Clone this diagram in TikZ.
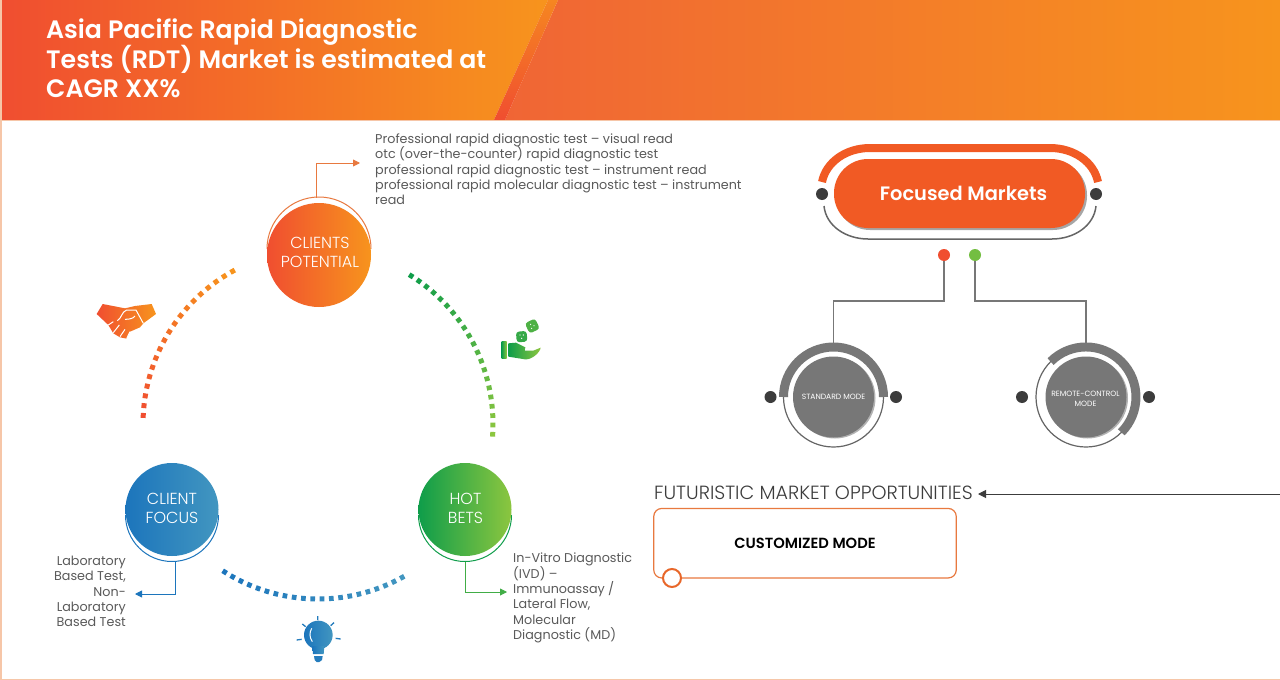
\documentclass[tikz,border=0pt]{standalone}
\usepackage{fontspec}
\setmainfont{Poppins}
\newfontfamily\poplight{Poppins Light}
\newfontfamily\popsemi{Poppins SemiBold}
\usetikzlibrary{arrows.meta,calc}
\definecolor{hdRed}{HTML}{F04E30}
\definecolor{hdOrg}{HTML}{F7941D}
\definecolor{hdMid}{HTML}{F06535}
\definecolor{peach}{HTML}{F6C6A8}
\definecolor{pill}{HTML}{F15A24}
\definecolor{ringo}{HTML}{E8672A}
\definecolor{txtg}{HTML}{5A5A5A}
\definecolor{mgray}{HTML}{777777}
\definecolor{dgray}{HTML}{3C3C3C}
\definecolor{blL}{HTML}{1C75BC}
\definecolor{blR}{HTML}{4296C0}
\definecolor{grL}{HTML}{0F9D4A}
\definecolor{grR}{HTML}{8CC63F}
\definecolor{bxo}{HTML}{E8793F}
\AtBeginDocument{\lineskiplimit=-100pt}
\tikzset{
 x=1pt,y=-1pt,
 bigdisc/.style={circle,minimum size=#1,inner sep=0pt},
 disctxt/.style={inner sep=0pt,text=white,align=center,font=\poplight\fontsize{16}{19}\selectfont},
 dotk/.style={circle,minimum size=12pt,inner sep=0pt,fill=dgray},
 listtxt/.style={inner sep=0pt,text=txtg,font=\fontsize{12.75}{15.3}\selectfont},
 modecirc/.style={circle,minimum size=81pt,inner sep=0pt,fill=mgray,text=white,align=center,font=\fontsize{7.6}{10}\selectfont},
 gline/.style={draw=mgray,line width=1.5pt},
 elbow/.style={line width=.9pt,-{Triangle[length=7pt,width=7pt]}},
}
\newcommand{\dashedarc}[5]{% start, end, steps, colour a, colour b
 \foreach \i in {0,...,#3}{
  \pgfmathsetmacro{\angA}{#1+(#2-#1)*\i/#3}
  \pgfmathsetmacro{\angB}{\angA+(#2-#1)/#3*0.5}
  \pgfmathsetmacro{\pc}{100*\i/#3}
  \draw[line width=5pt,color={#5!\pc!#4}] ({318+175*cos(\angA)},{424-175*sin(\angA)}) -- ({318+175*cos(\angB)},{424-175*sin(\angB)});
 }}
\begin{document}
\begin{tikzpicture}
\useasboundingbox (0,0) rectangle (1280,680);
\fill[white] (0,0) rectangle (1280,680);
% header
\shade[left color=hdRed,right color=hdOrg] (2,0) -- (548,0) -- (494,120) -- (2,120) -- cycle;
\shade[left color=hdMid,right color=hdOrg] (558,0) -- (1280,0) -- (1280,120) -- (505,120) -- cycle;
\shade[top color=hdOrg!80!hdRed,middle color=hdRed!85!hdOrg,bottom color=hdRed] (548,0) -- (558,0) -- (505,120) -- (494,120) -- cycle;
\fill[peach] (0,0) rectangle (2,680);
\fill[peach] (2,120) rectangle (1280,121);
\fill[peach] (0,679) rectangle (1280,680);
\node[anchor=north west,inner sep=0pt,align=left,text=white,font=\popsemi\fontsize{25.2}{29.6}\selectfont] (title) at (46,18.5) {Asia Pacific Rapid Diagnostic\\Tests (RDT) Market is estimated at\\CAGR XX\%};
% dashed arcs
\dashedarc{178}{120}{18}{hdRed}{hdOrg}
\dashedarc{58.6}{-2.6}{20}{grL}{grR}
\dashedarc{237}{298}{20}{blL}{blR}
% circles
\draw[bxo,line width=1pt] (267,249) arc[start angle=180,end angle=360,radius=52];
\node[bigdisc=104pt,left color=hdRed,right color=hdOrg] (cp) at (319,255) {};
\node[disctxt] (cpt) at (320,252.5) {CLIENTS\\POTENTIAL};
\draw[blL,line width=1pt] (125.5,515) arc[start angle=180,end angle=0,radius=46.5];
\node[bigdisc=93pt,left color=blL,right color=blR] (cf) at (172,509.5) {};
\node[disctxt] (cft) at (172,508.5) {CLIENT\\FOCUS};
\draw[grL,line width=1pt] (418.5,515) arc[start angle=180,end angle=0,radius=46.5];
\node[bigdisc=93pt,left color=grL,right color=grR] (hb) at (465,509.5) {};
\node[disctxt] (hbt) at (465.5,508.5) {HOT\\BETS};
% texts
\node[listtxt,anchor=north west,align=left] (list) at (375,133.5) {Professional rapid diagnostic test – visual read\\otc (over-the-counter) rapid diagnostic test\\professional rapid diagnostic test – instrument read\\professional rapid molecular diagnostic test – instrument\\read};
\node[listtxt,anchor=north east,align=right] (lab) at (126,556) {Laboratory\\Based Test,\\Non-\\Laboratory\\Based Test};
\node[listtxt,anchor=north west,align=left] (ivd) at (513,553) {In-Vitro Diagnostic\\(IVD) –\\Immunoassay /\\Lateral Flow,\\Molecular\\Diagnostic (MD)};
% elbows
\coordinate (cpS) at (316,197.5);
\coordinate (cpE) at (360,163);
\coordinate (cfS) at (175.5,562);
\coordinate (cfE) at (135,594);
\coordinate (hbS) at (465,562);
\coordinate (hbE) at (507,592);
\draw[elbow,bxo] (cpS) |- (cpE);
\draw[elbow,blL] (cfS) |- (cfE);
\draw[elbow,grL!60!grR] (hbS) |- (hbE);
% focused markets
\fill[black,opacity=.35,rounded corners=34pt] (836,161) rectangle (1087,230);
\node[rounded corners=34pt,fill=pill,minimum width=251pt,minimum height=69pt,inner sep=0pt] (fm) at (959.5,193.5) {};
\node[text=white,inner sep=0pt,font=\popsemi\fontsize{19.4}{22}\selectfont] (fmt) at (963.5,193.5) {Focused Markets};
\draw[pill,line width=8pt] (822,182) .. controls (826,162) and (846,148) .. (870,148) -- (1050,148) .. controls (1074,148) and (1094,162) .. (1098,182);
\draw[mgray!85!black,line width=1.5pt] (824,206) .. controls (826,226) and (846,239) .. (868,239) -- (1052,239) .. controls (1074,239) and (1094,226) .. (1096,206);
\node[dotk] (fmL) at (822,194) {};
\node[dotk] (fmR) at (1096,194) {};
\node[circle,minimum size=12pt,inner sep=0pt,fill=hdRed] (rd) at (944,255) {};
\node[circle,minimum size=12pt,inner sep=0pt,fill=grR!80!grL] (gd) at (975,255) {};
% mode circles
\draw[mgray!85!black,line width=1.2pt] (833.5,397) circle[radius=50];
\draw[mgray,line width=9pt] (783.5,397) arc[start angle=180,end angle=360,radius=50];
\fill[black,opacity=.3] (835,398) circle[radius=40.5];
\node[modecirc] (sm) at (833.5,397) {STANDARD MODE};
\node[dotk] (smL) at (770.5,397) {};
\node[dotk] (smR) at (896,397) {};
\draw[mgray!85!black,line width=1.2pt] (1086,397) circle[radius=50];
\draw[mgray,line width=9pt] (1050.6,361.6) arc[start angle=225,end angle=405,radius=50];
\fill[black,opacity=.3] (1087.5,398) circle[radius=40.5];
\node[modecirc] (rm) at (1086,397) {};
\node[text=white,inner sep=0pt,align=center,font=\fontsize{7.6}{10}\selectfont] (rmt) at (1085.5,399) {REMOTE-CONTROL\\MODE};
\node[dotk] (rmL) at (1022,397) {};
\node[dotk] (rmR) at (1149,397) {};
\coordinate (smT) at (833.5,345);
\coordinate (rmT) at (1086,345);
\draw[gline] (rd) -- (944,301) -| (smT);
\draw[gline] (gd) -- (975,301) -| (rmT);
% futuristic
\node[anchor=west,inner sep=0pt,text=dgray,font=\poplight\fontsize{19.1}{22}\selectfont] (fut) at (654,493) {FUTURISTIC MARKET OPPORTUNITIES};
\coordinate (fr) at (1280,494);
\coordinate (fl) at (978,494);
\draw[line width=1pt,dgray,-{Triangle[length=8pt,width=8pt]}] (fr) -- (fl);
\node[draw=bxo,line width=1.2pt,rounded corners=8pt,minimum width=302.5pt,minimum height=69.5pt,inner sep=0pt,text=black,font=\popsemi\fontsize{14.7}{15}\selectfont] (cm) at (805,543.2) {CUSTOMIZED MODE};
\node[circle,draw=ringo,line width=2pt,fill=white,minimum size=18pt,inner sep=0pt] (cmd) at (672,578) {};
% handshake
\begin{scope}[shift={(80,290)},x=.3333pt,y=-.3333pt]
\shade[left color=hdRed,right color=hdOrg] (68,42) -- (135,55) -- (165,48) -- (215,42) -- (228,72) -- (190,100) -- (180,112) -- (150,125) -- (140,146) -- (120,142) -- (100,130) -- (85,105) -- (50,72) -- cycle;
\draw[white,line width=1pt] (112,92) .. controls (125,85) and (125,65) .. (140,60) -- (168,60) -- (190,100);
\draw[white,line width=1pt] (135,88) .. controls (150,88) and (160,85) .. (165,78);
\draw[white,line width=1pt] (85,105) -- (100,95) (100,128) -- (118,105) (120,140) -- (135,118) (140,146) -- (150,125);
\end{scope}
% hand and dice
\begin{scope}[shift={(490,310)},x=.3333pt,y=-.3333pt]
\shade[left color=grL,right color=grR] (35,95) rectangle (50,145);
\shade[left color=grL,right color=grR] (55,100) -- (78,98) -- (106,112) -- (104,122) -- (130,122) -- (152,113) .. controls (150,128) and (125,150) .. (105,148) -- (55,140) -- cycle;
\fill[grL!70!grR,rounded corners=3pt,rotate around={5:(95,80)}] (79,64) rectangle (111,96);
\fill[grR!50!grL,rounded corners=3pt,rotate around={25:(127,48)}] (110,31) rectangle (144,65);
\foreach \dx/\dy in {90/75,100/75,95/85,122/43,132/47,125/55}
 \fill[white] (\dx,\dy) circle[radius=2];
\end{scope}
% bulb
\begin{scope}[shift={(290,610)},x=.3333pt,y=-.3333pt]
\shade[left color=blL,right color=blR] (85,75) circle[radius=43];
\shade[left color=blL,right color=blR] (67,108) -- (103,108) -- (101,132) -- (69,132) -- cycle;
\fill[blL!80!blR] (72,138) -- (98,138) -- (96,150) -- (88,156) -- (80,156) -- (74,150) -- cycle;
\draw[white,line width=1pt] (65,55) .. controls (58,68) and (58,82) .. (67,95);
\draw[blL!80!blR,line width=1.3pt] (83,18) -- (83,30) (37,42) -- (47,50) (132,38) -- (122,47) (20,90) -- (35,88) (137,85) -- (152,87);
\end{scope}
\end{tikzpicture}
\end{document}
